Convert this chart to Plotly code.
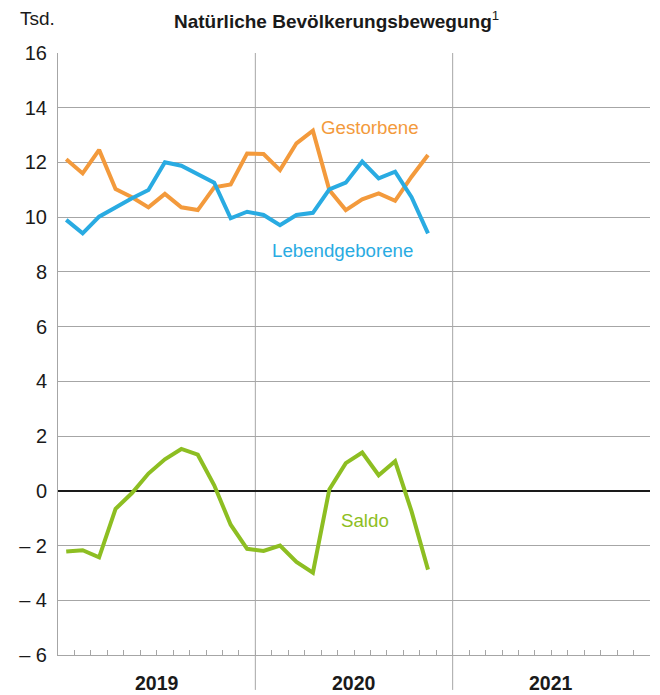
import plotly.graph_objects as go

# Monthly values, Jan 2019 - Nov 2020 (thousands)
months = list(range(23))
gestorbene = [12.12, 11.60, 12.46, 11.03, 10.73, 10.36, 10.85, 10.36, 10.26, 11.09, 11.20, 12.33,
              12.31, 11.72, 12.70, 13.16, 10.99, 10.26, 10.65, 10.87, 10.60, 11.48, 12.27]
lebendgeborene = [9.90, 9.41, 10.02, 10.36, 10.69, 10.99, 12.01, 11.88, 11.57, 11.26, 9.96, 10.20,
                  10.08, 9.71, 10.08, 10.16, 11.02, 11.26, 12.03, 11.42, 11.66, 10.73, 9.41]
saldo = [-2.22, -2.17, -2.43, -0.66, -0.08, 0.63, 1.15, 1.53, 1.32, 0.20, -1.24, -2.12,
         -2.20, -2.00, -2.60, -2.99, 0.05, 1.01, 1.40, 0.57, 1.08, -0.75, -2.88]

years = ["2019", "2020", "2021"]
y_ticks = list(range(-6, 17, 2))
y_ticktext = [("\u2013 " + str(-v)) if v < 0 else str(v) for v in y_ticks]

ORANGE = "#F39A3C"
BLUE = "#29ABE2"
GREEN = "#8DBE22"
GRID = "#A6A6A6"
TEXT = "#1a1a1a"
FONT = "Liberation Sans, Arial, sans-serif"

x = [m + 0.5 for m in months]

fig = go.Figure()
fig.add_trace(go.Scatter(x=x, y=gestorbene, mode="lines", line=dict(color=ORANGE, width=4),
                         name="Gestorbene"))
fig.add_trace(go.Scatter(x=x, y=lebendgeborene, mode="lines", line=dict(color=BLUE, width=4),
                         name="Lebendgeborene"))
fig.add_trace(go.Scatter(x=x, y=saldo, mode="lines", line=dict(color=GREEN, width=4),
                         name="Saldo"))

# year separators running down through the label band
shapes = []
for k in (12, 24):
    shapes.append(dict(type="line", xref="x", yref="paper", x0=k, x1=k, y0=-0.058, y1=1,
                       line=dict(color=GRID, width=1), layer="below"))

annotations = [
    dict(text="<b>Natürliche Bevölkerungsbewegung</b><sup>1</sup>", xref="paper", yref="paper",
         x=0.47, y=1.0, yshift=33, yanchor="middle", showarrow=False,
         font=dict(family=FONT, size=19, color=TEXT), xanchor="center"),
    dict(text="Tsd.", xref="paper", yref="paper", x=-0.068, y=1.0, yshift=35, yanchor="middle",
         showarrow=False, font=dict(family=FONT, size=19, color=TEXT), xanchor="left"),
    dict(text="Gestorbene", x=15.85, y=13.26, xanchor="left", showarrow=False,
         font=dict(family=FONT, size=18.7, color=ORANGE)),
    dict(text="Lebendgeborene", x=17.33, y=8.80, xanchor="center", showarrow=False,
         font=dict(family=FONT, size=18.7, color=BLUE)),
    dict(text="Saldo", x=18.67, y=-1.07, xanchor="center", showarrow=False,
         font=dict(family=FONT, size=18.7, color=GREEN)),
]
for i, yr in enumerate(years):
    annotations.append(dict(text="<b>" + yr + "</b>", x=6 + 12 * i, xref="x", yref="paper",
                            y=0, yshift=-28, yanchor="middle", showarrow=False,
                            font=dict(family=FONT, size=19.5, color=TEXT)))

fig.update_layout(
    width=660, height=695,
    margin=dict(l=58, r=10, t=53, b=40),
    paper_bgcolor="white", plot_bgcolor="white",
    showlegend=False,
    shapes=shapes,
    annotations=annotations,
    font=dict(family=FONT, size=19, color=TEXT),
)
fig.update_xaxes(range=[0, 36], showgrid=False, zeroline=False,
                 tickvals=list(range(37)), ticks="inside", ticklen=5, tickcolor=GRID,
                 showticklabels=False, showline=True, linecolor=GRID, linewidth=1)
fig.update_yaxes(range=[-6, 16], tickvals=y_ticks, ticktext=y_ticktext,
                 showgrid=True, gridcolor=GRID, gridwidth=1,
                 zeroline=True, zerolinecolor=TEXT, zerolinewidth=2,
                 showline=True, linecolor=GRID, linewidth=1, ticks="",
                 tickfont=dict(family=FONT, size=20, color=TEXT), ticklabelstandoff=6)

fig.write_html("out.html")
